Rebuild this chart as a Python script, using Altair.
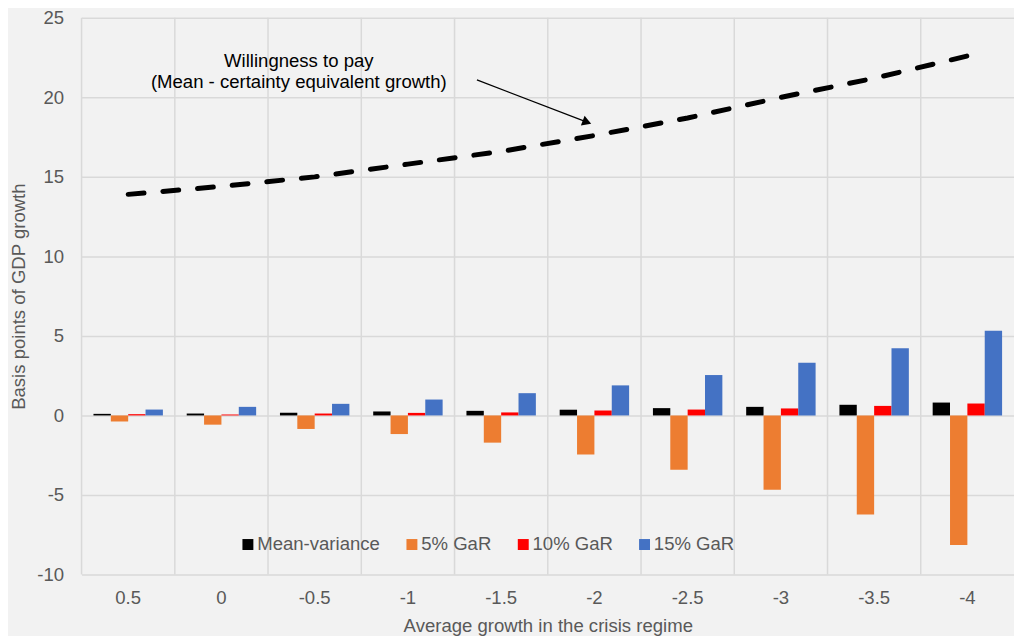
import altair as alt
import pandas as pd

cats = ["0.5", "0", "-0.5", "-1", "-1.5", "-2", "-2.5", "-3", "-3.5", "-4"]
series = ["Mean-variance", "5% GaR", "10% GaR", "15% GaR"]
colors = ["#000000", "#ED7D31", "#FF0000", "#4472C4"]

mean_var = [0.10, 0.12, 0.17, 0.25, 0.29, 0.36, 0.46, 0.54, 0.67, 0.81]
gar5 = [-0.38, -0.58, -0.85, -1.17, -1.71, -2.46, -3.42, -4.67, -6.23, -8.15]
gar10 = [0.08, 0.06, 0.12, 0.16, 0.19, 0.31, 0.37, 0.44, 0.60, 0.75]
gar15 = [0.37, 0.54, 0.73, 1.00, 1.40, 1.89, 2.54, 3.31, 4.23, 5.33]
wtp = [13.9, 14.4, 15.0, 15.8, 16.6, 17.6, 18.7, 20.0, 21.2, 22.6]

# annotation (category index units, value units)
ann_lines = ["Willingness to pay", "(Mean - certainty equivalent growth)"]
ann_x = [1.83, 1.83]
ann_y = [22.3, 20.95]
arrow_x = [3.74, 4.92]
arrow_y = [21.1, 18.44]

FONT = "Liberation Sans"
FS = 18.67
GRID = "#D9D9D9"
TXT = "#595959"

rows = []
for vals, s in zip([mean_var, gar5, gar10, gar15], series):
    for c, v in zip(cats, vals):
        rows.append({"cat": c, "series": s, "value": v})
bars_df = pd.DataFrame(rows)
line_df = pd.DataFrame({"cat": cats, "wtp": wtp})
ann_df = pd.DataFrame({"x": ann_x, "y": ann_y, "t": ann_lines})
arrow_df = pd.DataFrame({"x": [arrow_x[0]], "x2": [arrow_x[1]], "y": [arrow_y[0]], "y2": [arrow_y[1]]})
head_df = pd.DataFrame({"x": [arrow_x[1]], "y": [arrow_y[1]]})

xscale = alt.Scale(paddingInner=0, paddingOuter=0)
yscale = alt.Scale(domain=[-10, 25], nice=False)
yaxis = alt.Axis(values=list(range(-10, 30, 5)), grid=True, gridColor=GRID, gridWidth=1.5,
                 domain=False, ticks=False, labelPadding=18, labelExpr="datum.value",
                 title="Basis points of GDP growth", titlePadding=8)
xaxis = alt.Axis(labelAngle=0, domain=False, ticks=False, grid=False, labelPadding=14,
                 title="Average growth in the crisis regime", titlePadding=10)

vgrid = alt.Chart(line_df).mark_rule(color=GRID, strokeWidth=1.5).encode(
    x=alt.X("cat:N", sort=cats, scale=xscale, axis=xaxis, bandPosition=0)
)

bars = alt.Chart(bars_df).mark_bar().encode(
    x=alt.X("cat:N", sort=cats, scale=xscale, axis=xaxis),
    xOffset=alt.XOffset("series:N", sort=series,
                        scale=alt.Scale(domain=series, paddingInner=0, paddingOuter=0.686)),
    y=alt.Y("value:Q", scale=yscale, axis=yaxis),
    color=alt.Color("series:N", sort=series,
                    scale=alt.Scale(domain=series, range=colors),
                    legend=alt.Legend(orient="none", legendX=158, legendY=520,
                                      direction="horizontal", title=None,
                                      symbolType="square", symbolSize=121,
                                      symbolStrokeWidth=0, labelFontSize=FS,
                                      labelColor=TXT, labelFont=FONT,
                                      columnPadding=22, labelOffset=0)),
)

line = alt.Chart(line_df).mark_line(color="black", strokeWidth=5, strokeDash=[16, 19],
                                    strokeCap="round").encode(
    x=alt.X("cat:N", sort=cats, scale=xscale, axis=xaxis),
    y=alt.Y("wtp:Q", scale=yscale, axis=yaxis),
)

qx = alt.Scale(domain=[-0.5, 9.5], nice=False, zero=False)

ann_text = alt.Chart(ann_df).mark_text(font=FONT, fontSize=FS, color="#000000",
                                       align="center", baseline="middle").encode(
    x=alt.X("x:Q", scale=qx, axis=None),
    y=alt.Y("y:Q", scale=yscale, axis=yaxis),
    text="t:N",
)

arrow = alt.Chart(arrow_df).mark_rule(color="#000000", strokeWidth=1.2).encode(
    x=alt.X("x:Q", scale=qx, axis=None),
    x2="x2:Q",
    y=alt.Y("y:Q", scale=yscale, axis=yaxis),
    y2="y2:Q",
)

head = alt.Chart(head_df).mark_point(shape="triangle-up", filled=True, color="#000000",
                                     size=110, angle=111, opacity=1).encode(
    x=alt.X("x:Q", scale=qx, axis=None),
    y=alt.Y("y:Q", scale=yscale, axis=yaxis),
)

base = alt.layer(vgrid, bars, line)
annot = alt.layer(ann_text, arrow, head)

chart = alt.layer(base, annot).resolve_scale(x="independent").properties(
    width=938, height=560,
    autosize=alt.AutoSizeParams(type="none"),
    padding={"left": 74, "top": 8, "right": 0, "bottom": 60},
    background="#F2F2F2",
).configure_view(stroke=None).configure_axis(
    labelFont=FONT, labelFontSize=FS, labelColor=TXT,
    titleFont=FONT, titleFontSize=FS, titleColor=TXT, titleFontWeight="normal",
)

chart.save("out.html", embed_options={"renderer": "svg", "actions": False})
